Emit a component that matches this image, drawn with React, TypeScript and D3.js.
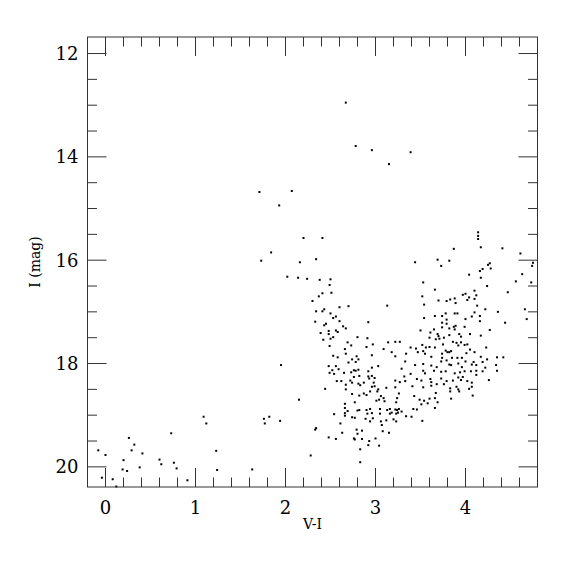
import React from "react";
import * as d3 from "d3";

// Axis settings
const xDomain: [number, number] = [-0.2, 4.8];
const yDomain: [number, number] = [11.68, 20.39];
const xMajorTicks = [0, 1, 2, 3, 4];
const yMajorTicks = [12, 14, 16, 18, 20];
const xLabel = "V-I";
const yLabel = "I (mag)";

// Stars: [V-I, I]
const blueSparse: [number, number][] = [
  [-0.08, 19.68], [0.0, 19.77], [-0.04, 20.21], [0.08, 20.24], [0.12, 20.38],
  [0.26, 19.44], [0.32, 19.57], [0.29, 19.68], [0.2, 19.87], [0.19, 20.05],
  [0.24, 20.08], [0.41, 19.74], [0.38, 20.01], [0.6, 19.86], [0.62, 19.95],
  [0.73, 19.35], [0.76, 19.92], [0.79, 20.03], [0.91, 20.26], [1.09, 19.03],
  [1.12, 19.16], [1.23, 19.69], [1.24, 20.06], [1.63, 20.05],
  [1.76, 19.07], [1.82, 19.03], [1.77, 19.16], [1.94, 19.11], [1.95, 18.03],
  [2.15, 18.7], [2.28, 19.78], [2.83, 19.91],
];

const brightSparse: [number, number][] = [
  [2.67, 12.95], [2.78, 13.79], [2.96, 13.87], [3.15, 14.14], [3.39, 13.91],
  [1.71, 14.68], [2.07, 14.66], [1.93, 14.94], [1.84, 15.85], [1.73, 16.01],
  [2.02, 16.32], [2.14, 16.34], [2.2, 15.57], [2.41, 15.57], [2.16, 16.04],
  [2.34, 15.98], [2.24, 16.36], [2.38, 16.38], [2.5, 16.37],
];

const upperBranch: [number, number][] = [
  [2.49, 16.48], [2.41, 16.64], [2.51, 16.63], [2.37, 16.7], [2.3, 16.79],
  [2.6, 16.91], [2.7, 16.89], [3.13, 16.88], [2.34, 16.99], [2.41, 16.99],
  [2.43, 16.95], [2.5, 17.03], [2.53, 17.12], [2.56, 17.09], [2.6, 17.18],
  [2.33, 17.19], [2.43, 17.26], [2.45, 17.23], [2.64, 17.28], [2.67, 17.32],
  [2.92, 17.2], [2.39, 17.41], [2.48, 17.37], [2.48, 17.43], [2.56, 17.36],
  [2.58, 17.39], [2.53, 17.49], [2.5, 17.52], [2.42, 17.54], [2.8, 17.49],
  [2.91, 17.51], [2.69, 17.59], [2.73, 17.65], [2.49, 17.66], [2.97, 17.63],
  [2.9, 17.68], [3.14, 17.59], [3.22, 17.58], [3.27, 17.58], [2.66, 17.72],
  [3.09, 17.72], [3.18, 17.78], [2.53, 17.85], [2.58, 17.88], [2.67, 17.81],
  [2.79, 17.86], [2.96, 17.84], [3.22, 17.86], [2.81, 17.92], [2.74, 17.92],
];

const lowerBranch: [number, number][] = [
  [2.7, 17.98], [2.78, 17.97], [2.48, 18.05], [2.56, 18.05], [2.59, 18.11],
  [2.52, 18.13], [2.49, 18.18], [2.54, 18.2], [2.65, 18.18], [2.73, 18.17],
  [2.76, 18.13], [2.78, 18.14], [2.81, 18.12], [2.96, 18.08], [3.03, 18.05],
  [2.92, 18.15], [2.82, 18.24], [2.76, 18.26], [2.72, 18.33], [2.74, 18.37],
  [2.67, 18.41], [2.57, 18.34], [2.62, 18.34], [2.67, 18.5], [2.44, 18.49],
  [2.92, 18.25], [2.96, 18.24], [2.99, 18.28], [2.93, 18.29], [2.87, 18.37],
  [2.81, 18.39], [2.83, 18.42], [2.98, 18.37], [2.99, 18.44], [2.96, 18.45],
  [3.12, 18.47], [3.03, 18.5], [3.02, 18.54], [2.94, 18.54], [2.87, 18.58],
  [2.9, 18.61], [2.82, 18.62], [2.74, 18.59], [3.06, 18.63], [3.09, 18.67],
  [3.04, 18.7], [3.1, 18.73], [3.01, 18.72], [3.26, 18.58], [3.24, 18.67],
  [3.23, 18.75], [2.77, 18.75], [2.66, 18.78], [2.66, 18.86], [2.69, 18.92],
  [2.66, 18.96], [2.66, 19.01], [2.54, 18.98], [2.82, 18.9], [2.8, 18.91],
  [2.9, 18.9], [2.91, 18.97], [2.96, 18.96], [2.94, 18.88], [3.05, 18.88],
  [3.05, 18.97], [3.13, 18.9], [3.16, 18.88], [3.18, 18.95], [3.16, 18.97],
  [3.22, 18.89], [3.24, 18.9], [3.26, 18.88], [3.23, 18.97], [3.25, 18.95],
  [2.74, 19.04], [2.77, 19.05], [2.97, 19.06], [2.89, 19.07], [2.94, 19.12],
  [3.06, 19.12], [3.12, 19.1], [3.2, 19.08], [3.23, 19.12], [2.61, 19.16],
  [3.07, 19.19], [2.34, 19.25], [2.33, 19.28], [2.63, 19.34], [2.79, 19.28],
  [2.85, 19.3], [3.08, 19.31], [3.15, 19.34], [2.8, 19.36], [2.48, 19.43],
  [2.56, 19.46], [2.76, 19.45], [2.77, 19.47], [2.85, 19.46], [3.0, 19.45],
  [2.93, 19.5], [2.92, 19.58], [3.04, 19.59], [2.83, 19.66],
];

const redGiants: [number, number][] = [
  [4.14, 15.46], [4.14, 15.53], [4.14, 15.59], [3.87, 15.78], [4.17, 15.75],
  [4.41, 15.77], [4.61, 15.87], [3.44, 16.04], [3.69, 15.99], [3.82, 16.01],
  [3.73, 16.11], [4.27, 16.06], [4.25, 16.09], [4.19, 16.17], [4.16, 16.21],
  [4.28, 16.16], [4.75, 16.05], [4.74, 16.11], [4.04, 16.28], [4.17, 16.34],
  [4.63, 16.27], [3.53, 16.43], [4.56, 16.41], [4.73, 16.43], [4.24, 16.5],
  [3.66, 16.57], [4.1, 16.59], [4.47, 16.62], [3.52, 16.7], [4.0, 16.65],
  [3.97, 16.67], [4.12, 16.68], [4.04, 16.72], [4.02, 16.77], [4.1, 16.75],
  [3.88, 16.74], [3.83, 16.76], [3.79, 16.79], [3.7, 16.78], [3.54, 16.86],
  [3.89, 16.83], [4.13, 16.88], [4.22, 16.95], [4.36, 17.0], [4.66, 16.95],
  [3.78, 17.03], [3.88, 17.03], [3.91, 17.03], [4.1, 17.01], [3.66, 17.08],
  [3.74, 17.08], [4.07, 17.09], [4.16, 17.08], [3.54, 17.12], [3.79, 17.15],
  [4.68, 17.14], [4.44, 17.21], [3.99, 17.29], [4.27, 17.35], [4.23, 17.69],
  [4.35, 17.88], [4.42, 17.88], [4.24, 17.92], [4.09, 17.97], [4.12, 18.03],
  [4.34, 18.03], [4.35, 18.14], [4.19, 18.15], [4.12, 18.22], [3.97, 18.26],
  [4.07, 18.37], [4.04, 18.49],
];

const redClump: [number, number][] = [
  [3.74, 17.21], [3.79, 17.23], [4.0, 17.14], [4.16, 17.18], [3.5, 17.36],
  [3.61, 17.4], [3.65, 17.34], [3.69, 17.43], [3.7, 17.47], [3.74, 17.3],
  [3.82, 17.32], [3.87, 17.29], [3.88, 17.34], [3.89, 17.27], [3.93, 17.43],
  [3.95, 17.48], [4.05, 17.43], [4.17, 17.46], [3.6, 17.5], [3.67, 17.53],
  [3.71, 17.52], [3.76, 17.5], [3.82, 17.45], [3.86, 17.58], [3.39, 17.69],
  [3.45, 17.71], [3.52, 17.64], [3.53, 17.76], [3.56, 17.69], [3.6, 17.68],
  [3.66, 17.69], [3.75, 17.63], [3.78, 17.75], [3.8, 17.78], [3.82, 17.78],
  [3.84, 17.76], [3.9, 17.6], [3.92, 17.65], [3.95, 17.59], [3.99, 17.64],
  [4.02, 17.63], [4.05, 17.73], [4.1, 17.78], [4.17, 17.87], [3.34, 17.81],
  [3.47, 17.78], [3.55, 17.81], [3.62, 17.87], [3.74, 17.81], [3.74, 17.89],
  [3.73, 17.96], [3.79, 17.94], [3.85, 17.89], [3.91, 17.89], [3.96, 17.89],
  [4.0, 17.96], [4.01, 17.8], [4.07, 18.02], [3.33, 17.96], [3.44, 18.03],
  [3.53, 18.01], [3.62, 18.04], [3.68, 18.07], [3.82, 18.02], [3.84, 18.03],
  [3.92, 18.0], [3.96, 18.07], [4.06, 18.15], [4.12, 18.14], [4.19, 17.97],
  [4.22, 18.08], [3.29, 18.1], [3.53, 18.14], [3.55, 18.19], [3.65, 18.14],
  [3.73, 18.16], [3.78, 18.15], [3.88, 18.19], [3.94, 18.17], [3.99, 18.15],
  [3.39, 18.2], [3.32, 18.25], [3.22, 18.33], [3.27, 18.36], [3.33, 18.34],
  [3.46, 18.3], [3.51, 18.33], [3.61, 18.3], [3.62, 18.36], [3.73, 18.29],
  [3.79, 18.34], [3.86, 18.33], [3.92, 18.27], [3.95, 18.32], [4.02, 18.34],
  [4.26, 18.32], [3.22, 18.46], [3.41, 18.44], [3.53, 18.46], [3.62, 18.43],
  [3.68, 18.4], [3.76, 18.4], [3.83, 18.48], [3.9, 18.45], [3.92, 18.5],
  [3.93, 18.54], [3.67, 18.57], [3.83, 18.54], [4.07, 18.45], [3.43, 18.63],
  [3.49, 18.7], [3.54, 18.72], [3.6, 18.68], [3.66, 18.67], [3.69, 18.75],
  [3.84, 18.68], [4.08, 18.62], [3.66, 18.86], [3.51, 18.79], [3.42, 18.88],
  [3.58, 18.77], [3.52, 19.11], [3.46, 18.89], [3.4, 19.03], [3.34, 19.02],
  [3.29, 18.93],
];

const allStars = [
  ...blueSparse,
  ...brightSparse,
  ...upperBranch,
  ...lowerBranch,
  ...redGiants,
  ...redClump,
];

const W = 575;
const H = 575;
const frame = { left: 87.5, right: 537.5, top: 37, bottom: 487 };
const FONT = "'DejaVu Serif', serif";
const AXIS = "#333";

export default function App() {
  const x = d3.scaleLinear().domain(xDomain).range([frame.left, frame.right]);
  const y = d3.scaleLinear().domain(yDomain).range([frame.top, frame.bottom]);

  const xMinor = d3.range(-0.2, 4.81, 0.2).map((v) => Math.round(v * 10) / 10)
    .filter((v) => v > xDomain[0] && v < xDomain[1] && !xMajorTicks.includes(v));
  const yMinor = d3.range(12, 20.01, 0.5).filter((v) => !yMajorTicks.includes(v));

  const majorLen = 19;
  const minorLen = 9.5;

  return (
    <svg
      width={W}
      height={H}
      style={{ position: "absolute", left: 0, top: 0, background: "#fff" }}
    >
      <rect x={0} y={0} width={W} height={H} fill="#fff" />
      {/* stars */}
      <g fill="#000">
        {allStars.map((d, i) => (
          <rect
            key={i}
            x={x(d[0]) - 1}
            y={y(d[1]) - 1}
            width={2}
            height={2}
          />
        ))}
      </g>
      {/* frame */}
      <rect
        x={frame.left}
        y={frame.top}
        width={frame.right - frame.left}
        height={frame.bottom - frame.top}
        fill="none"
        stroke={AXIS}
        strokeWidth={1}
      />
      {/* ticks */}
      <g stroke={AXIS} strokeWidth={1}>
        {xMajorTicks.map((v) => (
          <g key={"xM" + v}>
            <line x1={x(v)} x2={x(v)} y1={frame.bottom} y2={frame.bottom - majorLen} />
            <line x1={x(v)} x2={x(v)} y1={frame.top} y2={frame.top + majorLen} />
          </g>
        ))}
        {xMinor.map((v) => (
          <g key={"xm" + v}>
            <line x1={x(v)} x2={x(v)} y1={frame.bottom} y2={frame.bottom - minorLen} />
            <line x1={x(v)} x2={x(v)} y1={frame.top} y2={frame.top + minorLen} />
          </g>
        ))}
        {yMajorTicks.map((v) => (
          <g key={"yM" + v}>
            <line y1={y(v)} y2={y(v)} x1={frame.left} x2={frame.left + majorLen} />
            <line y1={y(v)} y2={y(v)} x1={frame.right} x2={frame.right - majorLen} />
          </g>
        ))}
        {yMinor.map((v) => (
          <g key={"ym" + v}>
            <line y1={y(v)} y2={y(v)} x1={frame.left} x2={frame.left + minorLen} />
            <line y1={y(v)} y2={y(v)} x1={frame.right} x2={frame.right - minorLen} />
          </g>
        ))}
      </g>
      {/* tick labels */}
      <g fontFamily={FONT} fontSize={18} fill="#000">
        {xMajorTicks.map((v) => (
          <text key={"xl" + v} x={x(v)} y={513.5} textAnchor="middle">
            {v}
          </text>
        ))}
        {yMajorTicks.map((v) => (
          <text
            key={"yl" + v}
            x={78.5}
            y={y(v) + 6.5}
            textAnchor="end"
          >
            {v}
          </text>
        ))}
      </g>
      {/* axis titles */}
      <text
        x={(frame.left + frame.right) / 2}
        y={529}
        textAnchor="middle"
        fontFamily={FONT}
        fontSize={14}
      >
        {xLabel}
      </text>
      <text
        transform={`translate(39.5, ${(frame.top + frame.bottom) / 2}) rotate(-90)`}
        textAnchor="middle"
        fontFamily={FONT}
        fontSize={14}
      >
        {yLabel}
      </text>
    </svg>
  );
}
